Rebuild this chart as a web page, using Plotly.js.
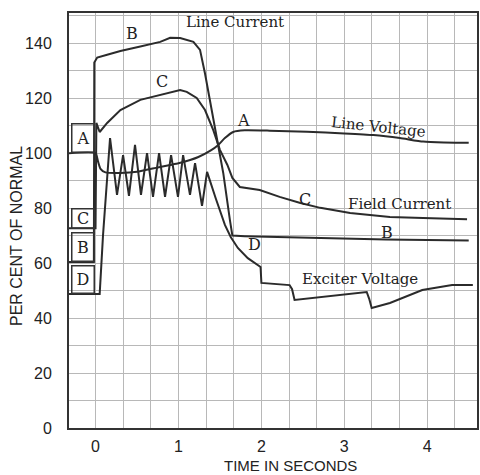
<!DOCTYPE html>
<html>
<head>
<meta charset="utf-8">
<script src="https://cdn.plot.ly/plotly-3.0.1.min.js"></script>
<style>html,body{margin:0;padding:0;background:#fff;}#chart{width:480px;height:475px;}</style>
</head>
<body>
<div id="chart"></div>
<script>
// Time in seconds / per cent of normal
const xTickLabels = ['0', '1', '2', '3', '4'];
const xTickValues = [0, 1, 2, 3, 4];

// A: Line Voltage
const lineVoltageT   = [-0.32, 0, 0.03, 0.06, 0.12, 0.3, 0.5, 0.75, 0.9, 1.0, 1.14, 1.24, 1.39, 1.48, 1.56, 1.66, 1.8, 2.1, 2.55, 3.0, 3.35, 3.67, 3.95, 4.2, 4.5];
const lineVoltagePct = [100, 100, 97, 94.3, 93, 92.8, 93.2, 94.8, 95.7, 96.3, 97.5, 98.6, 101, 103, 105.5, 107.7, 108.3, 108.2, 107.8, 107.2, 106.6, 105.5, 104.2, 103.9, 103.8];

// B: Line Current
const lineCurrentT   = [-0.32, -0.02, -0.015, 0.02, 0.14, 0.3, 0.54, 0.78, 0.9, 1.02, 1.18, 1.26, 1.32, 1.38, 1.47, 1.54, 1.62, 1.65, 1.8, 2.5, 3.5, 4.5];
const lineCurrentPct = [60.4, 60.4, 133, 134.8, 135.8, 137.2, 138.8, 140.5, 142, 141.9, 140.5, 137.6, 129, 119.4, 104.8, 92.8, 75.7, 70, 69.8, 69.3, 68.6, 68.2];

// C: Field Current
const fieldCurrentT   = [-0.32, 0, 0.01, 0.05, 0.14, 0.3, 0.54, 0.78, 1.02, 1.1, 1.22, 1.32, 1.42, 1.5, 1.59, 1.65, 1.74, 1.98, 2.22, 2.47, 2.71, 3.07, 3.55, 3.95, 4.48];
const fieldCurrentPct = [72.7, 72.7, 111, 107.7, 111, 115.7, 119.4, 121.2, 123, 122.3, 120.1, 115.7, 108.4, 101.2, 95.7, 91, 87.7, 86.6, 84.1, 81.9, 80.1, 78.2, 76.8, 76.4, 76];

// D: Exciter Voltage
const exciterT   = [-0.32, 0.05, 0.09, 0.175, 0.259, 0.332, 0.403, 0.476, 0.548, 0.621, 0.693, 0.766, 0.838, 0.911, 0.994, 1.056, 1.139, 1.2, 1.284, 1.345, 1.45, 1.56, 1.63, 1.716, 1.836, 1.96, 1.99, 2.0, 2.34, 2.37, 2.4, 3.27, 3.3, 3.33, 3.55, 3.94, 4.3, 4.55];
const exciterPct = [48.8, 48.8, 70, 105.5, 84.8, 99.3, 84.5, 103, 84.8, 100, 84.1, 100, 84.1, 99.3, 84.1, 99.3, 84.8, 96.4, 80.8, 93.2, 83.5, 73.9, 69.5, 65.5, 61.8, 59, 58.6, 52.8, 52, 50.5, 46.6, 49.5, 47, 43.7, 45.5, 50.2, 52, 52];

const mk = (t, p, name, shape) => ({x: t, y: p, name: name, type: 'scatter', mode: 'lines',
  line: {color: '#2b2b2b', width: 2, shape: shape, smoothing: 0.5}, hoverinfo: 'skip'});

const traces = [
  mk(lineVoltageT, lineVoltagePct, 'Line Voltage', 'spline'),
  mk(lineCurrentT, lineCurrentPct, 'Line Current', 'linear'),
  mk(fieldCurrentT, fieldCurrentPct, 'Field Current', 'linear'),
  mk(exciterT, exciterPct, 'Exciter Voltage', 'linear')
];

const serif = {family: 'DejaVu Serif', size: 15, color: '#222'};
const letter = {family: 'DejaVu Serif', size: 16, color: '#222'};
const ann = (x, y, text, font, extra) => Object.assign({x: x, y: y, xref: 'x', yref: 'y', text: text, showarrow: false, font: font}, extra || {});
const box = (y, h, text) => ann(-0.157, y, text, letter, {width: 21, height: h, bordercolor: '#333', borderwidth: 1.5, borderpad: 0});

const gridColor = '#b8b8b8';
const layout = {
  width: 480, height: 475,
  margin: {l: 69, r: 3, t: 13, b: 47},
  paper_bgcolor: '#ffffff', plot_bgcolor: '#ffffff',
  showlegend: false,
  xaxis: {
    range: [-0.32, 4.6], tickmode: 'array', tickvals: xTickValues, ticktext: xTickLabels,
    showgrid: true, gridcolor: gridColor, gridwidth: 1, zeroline: false,
    showline: true, mirror: true, linecolor: '#333', linewidth: 2, ticks: '',
    ticklabelstandoff: 3,
    tickfont: {family: 'Liberation Sans', size: 16, color: '#222'},
    minor: {tick0: 0, dtick: 1/3, showgrid: true, gridcolor: gridColor, gridwidth: 1, ticks: ''}
  },
  yaxis: {
    range: [0, 151], tickmode: 'linear', tick0: 0, dtick: 20,
    showgrid: true, gridcolor: gridColor, gridwidth: 1, zeroline: false,
    showline: true, mirror: true, linecolor: '#333', linewidth: 2, ticks: '',
    ticklabelstandoff: 12,
    tickfont: {family: 'Liberation Sans', size: 16, color: '#222'},
    minor: {tick0: 0, dtick: 10, showgrid: true, gridcolor: gridColor, gridwidth: 1, ticks: ''}
  },
  annotations: [
    {xref: 'paper', yref: 'paper', x: -0.127, y: 0.463, xanchor: 'center', yanchor: 'middle', text: 'PER CENT OF NORMAL', textangle: -90, showarrow: false, font: {family: 'Liberation Sans', size: 16, color: '#222'}},
    {xref: 'paper', yref: 'paper', x: 0.542, y: -0.091, xanchor: 'center', yanchor: 'middle', text: 'TIME IN SECONDS', showarrow: false, font: {family: 'Liberation Sans', size: 15, color: '#222'}},
    ann(1.68, 147.7, 'Line Current', serif),
    ann(0.44, 143.7, 'B', letter),
    ann(0.80, 126, 'C', letter),
    ann(1.78, 112, 'A', letter),
    ann(3.41, 109.5, 'Line Voltage', serif, {textangle: 6}),
    ann(2.53, 83, 'C', letter),
    ann(3.67, 81.5, 'Field Current', serif),
    ann(3.52, 71.3, 'B', letter),
    ann(1.92, 66.6, 'D', letter),
    ann(3.19, 54.2, 'Exciter Voltage', serif),
    box(105.7, 27, 'A'),
    box(76.4, 18, 'C'),
    box(65.7, 27, 'B'),
    box(54.2, 26, 'D')
  ]
};

Plotly.newPlot('chart', traces, layout, {staticPlot: true, displayModeBar: false});
</script>
</body>
</html>
